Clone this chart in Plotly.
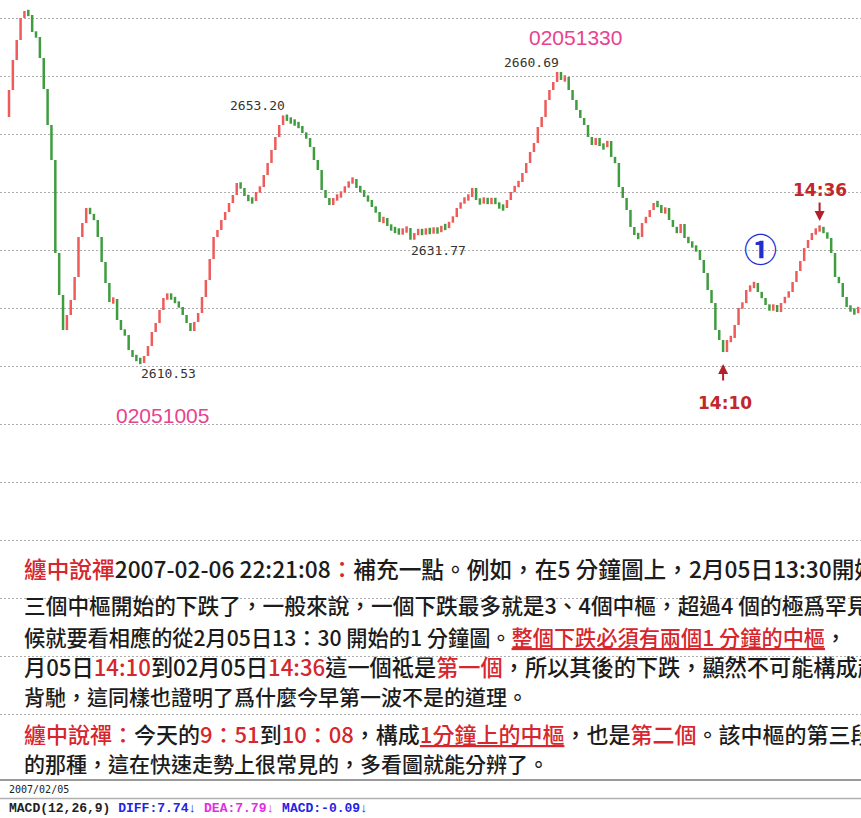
import plotly.graph_objects as go

# ---------------- data (1-minute index bars, 2007/02/05) ----------------
first_open = 2652.93
closes = [
    2657.59, 2662.76, 2666.21, 2670.00, 2671.21, 2670.52, 2667.59, 2666.72, 2663.10, 2657.76,
    2651.55, 2645.52, 2629.48, 2622.24, 2616.21, 2618.79, 2621.38, 2625.34, 2632.24, 2634.65,
    2637.24, 2636.21, 2635.17, 2632.24, 2627.93, 2624.31, 2621.03, 2621.55, 2617.93, 2616.21,
    2615.34, 2612.76, 2611.55, 2611.21, 2610.53, 2611.72, 2613.45, 2615.86, 2617.41, 2619.65,
    2621.72, 2622.24, 2621.72, 2621.03, 2620.17, 2618.79, 2617.41, 2616.03, 2617.59, 2619.14,
    2621.90, 2624.83, 2628.45, 2632.24, 2633.45, 2635.17, 2636.55, 2638.10, 2639.48, 2641.55,
    2640.69, 2639.31, 2638.62, 2638.45, 2640.00, 2640.86, 2642.93, 2645.00, 2647.24, 2649.48,
    2651.55, 2653.20, 2652.41, 2652.24, 2651.72, 2651.38, 2650.17, 2649.31, 2647.76, 2645.52,
    2643.79, 2640.34, 2638.97, 2637.76, 2638.97, 2639.14, 2640.00, 2640.86, 2641.72, 2642.24,
    2640.69, 2640.34, 2639.14, 2638.62, 2637.41, 2636.55, 2634.83, 2635.52, 2634.14, 2633.62,
    2633.28, 2633.10, 2633.28, 2633.79, 2631.77, 2632.93, 2633.28, 2632.93, 2633.45, 2633.10,
    2633.62, 2633.10, 2634.14, 2633.79, 2634.83, 2635.69, 2637.24, 2638.10, 2638.97, 2639.14,
    2640.69, 2638.62, 2638.10, 2638.97, 2637.93, 2638.97, 2637.93, 2637.41, 2637.24, 2638.62,
    2640.00, 2641.03, 2641.72, 2643.28, 2645.00, 2646.90, 2648.45, 2651.21, 2652.93, 2655.86,
    2657.59, 2658.97, 2660.69, 2659.31, 2659.83, 2657.59, 2655.86, 2654.14, 2652.76, 2651.55,
    2649.48, 2648.10, 2649.31, 2647.93, 2647.76, 2648.79, 2646.03, 2645.00, 2640.86, 2638.97,
    2636.90, 2633.97, 2632.59, 2632.24, 2634.65, 2635.69, 2636.90, 2638.10, 2637.76, 2636.38,
    2637.24, 2635.17, 2633.97, 2632.93, 2634.48, 2632.07, 2631.38, 2630.52, 2630.00, 2628.28,
    2626.03, 2623.10, 2620.86, 2616.21, 2614.48, 2612.41, 2614.48, 2614.83, 2617.07, 2620.00,
    2620.86, 2623.10, 2623.62, 2624.31, 2622.76, 2621.72, 2620.52, 2619.65, 2620.52, 2619.31,
    2620.86, 2621.90, 2622.76, 2624.48, 2626.38, 2628.10, 2630.34, 2631.72, 2632.93, 2633.45,
    2633.97, 2632.93, 2632.07, 2629.48, 2625.34, 2624.31, 2621.90, 2620.17, 2619.65, 2619.14,
    2620.17,
]
bar_index = list(range(len(closes)))

high_labels = ["2653.20", "2660.69"]
low_labels = ["2631.77", "2610.53"]
time_labels = ["02051005", "02051330"]
turn_low_idx, turn_high_idx = 185, 210
turn_low_text, turn_high_text = "14:10", "14:36"

date_text = "2007/02/05"
macd_name = "MACD(12,26,9)"
macd_diff, macd_dea, macd_val = "7.74", "7.79", "-0.09"

# ---------------- styling ----------------
W, H = 861, 818
PLOT_H = 745
RED_BAR, GREEN_BAR = "#ef5b5b", "#3f9c3f"
RED_TXT = "#d7262d"
PINK = "#e8428f"
CJK = "Noto Sans CJK TC"

def px(x):
    return x / W

def py(y):
    return 1 - y / PLOT_H

opens = [first_open] + closes[:-1]
bases, heights, colors = [], [], []
MIN_H = 1.1
for o, c in zip(opens, closes):
    lo, hi = min(o, c), max(o, c)
    if hi - lo < MIN_H:
        m = (hi + lo) / 2
        lo, hi = m - MIN_H / 2, m + MIN_H / 2
    bases.append(lo)
    heights.append(hi - lo)
    colors.append(RED_BAR if c >= o else GREEN_BAR)

fig = go.Figure(go.Bar(
    x=bar_index, y=heights, base=bases, width=0.65,
    marker=dict(color=colors, line=dict(width=0)),
    hoverinfo="skip",
))

step = 3.86
x0 = -9 / step
x1 = (W - 9) / step
ppp = 5.8  # pixels per point
y_top = 2670 + 18 / ppp
y_bot = 2670 - (PLOT_H - 18) / ppp

ann = []
# price extreme labels
for t in high_labels:
    v = float(t)
    i = closes.index(v)
    ann.append(dict(x=i, y=v, xref="x", yref="y", text=t, showarrow=False,
                    xanchor="right", yanchor="bottom", xshift=4, yshift=0,
                    font=dict(family="DejaVu Sans Mono", size=13, color="#333")))
for t in low_labels:
    v = float(t)
    i = closes.index(v)
    ann.append(dict(x=i, y=v, xref="x", yref="y", text=t, showarrow=False,
                    xanchor="left", yanchor="top", xshift=-1, yshift=-1,
                    font=dict(family="DejaVu Sans Mono", size=13, color="#333")))
# pink time labels
ann.append(dict(x=px(162), y=py(416), xref="paper", yref="paper", text=time_labels[0],
                showarrow=False, xanchor="center", yanchor="middle",
                font=dict(family="Liberation Sans", size=21, color=PINK)))
ann.append(dict(x=px(575), y=py(38), xref="paper", yref="paper", text=time_labels[1],
                showarrow=False, xanchor="center", yanchor="middle",
                font=dict(family="Liberation Sans", size=21, color=PINK)))
# turning points with arrows
lo_v = closes[turn_low_idx]
hi_v = closes[turn_high_idx]
ann.append(dict(x=turn_low_idx, y=lo_v, xref="x", yref="y", text="", showarrow=True,
                ax=0, ay=30, standoff=12, arrowhead=2, arrowsize=1, arrowwidth=2,
                arrowcolor="#b3202a"))
ann.append(dict(x=turn_low_idx, y=lo_v, xref="x", yref="y", text="<b>" + turn_low_text + "</b>",
                showarrow=False, xanchor="center", yanchor="middle", yshift=-51, xshift=2,
                font=dict(family="DejaVu Sans", size=17, color="#c2272d")))
ann.append(dict(x=turn_high_idx, y=hi_v, xref="x", yref="y", text="", showarrow=True,
                ax=0, ay=-26, standoff=6, arrowhead=2, arrowsize=1, arrowwidth=2,
                arrowcolor="#b3202a"))
ann.append(dict(x=turn_high_idx, y=hi_v, xref="x", yref="y", text="<b>" + turn_high_text + "</b>",
                showarrow=False, xanchor="center", yanchor="middle", yshift=37, xshift=0,
                font=dict(family="DejaVu Sans", size=17, color="#c2272d")))
ann.append(dict(x=px(760), y=py(248), xref="paper", yref="paper", text="①",
                showarrow=False, xanchor="center", yanchor="middle",
                font=dict(family=CJK, size=33, color="#1f2fd0", weight=700)))

# ---------------- commentary text ----------------
def red(s):
    return f'<span style="color:{RED_TXT}">{s}</span>'

# (y centre, font size, text) - first lines of each paragraph are justified wider
lines = [
    (568, 22.7, red("纏中說禪") + "2007-02-06 22:21:08" + red("：") + "補充一點。例如，在5 分鐘圖上，2月05日13:30開始"),
    (604, 21.7, "三個中樞開始的下跌了，一般來說，一個下跌最多就是3、4個中樞，超過4 個的極爲罕見"),
    (636, 21.2, "候就要看相應的從2月05日13：30 開始的1 分鐘圖。" + red("<u>整個下跌必須有兩個1 分鐘的中樞</u>") + "，"),
    (666, 22.2, "月05日" + red("14:10") + "到02月05日" + red("14:36") + "這一個祗是" + red("第一個") + "，所以其後的下跌，顯然不可能構成趨"),
    (696, 21, "背馳，這同樣也證明了爲什麼今早第一波不是的道理。"),
    (733, 22, red("纏中說禪：") + "今天的" + red("9：51") + "到" + red("10：08") + "，構成" + red("<u>1分鐘上的中樞</u>") + "，也是" + red("第二個") + "。該中樞的第三段"),
    (763, 21, "的那種，這在快速走勢上很常見的，多看圖就能分辨了。"),
]
for y, fs, t in lines:
    ann.append(dict(x=px(22), y=py(y), xref="paper", yref="paper", text=t, showarrow=False,
                    xanchor="left", yanchor="middle", align="left",
                    font=dict(family=CJK, size=fs, color="#1c1c1c", weight=500)))

# ---------------- bottom info strip ----------------
ann.append(dict(x=px(7), y=py(789), xref="paper", yref="paper", text=date_text, showarrow=False,
                xanchor="left", yanchor="middle",
                font=dict(family="DejaVu Sans Mono", size=10, color="#222")))
macd_txt = (macd_name + " "
            + f'<span style="color:#2323e6">DIFF:{macd_diff}↓</span> '
            + f'<span style="color:#e22ee2">DEA:{macd_dea}↓</span> '
            + f'<span style="color:#2323e6">MACD:{macd_val}↓</span>')
ann.append(dict(x=px(7), y=py(808), xref="paper", yref="paper", text=macd_txt, showarrow=False,
                xanchor="left", yanchor="middle",
                font=dict(family="Liberation Mono", size=13, color="#222", weight=700)))

shapes = [
    dict(type="line", xref="paper", yref="paper", x0=0, x1=1, y0=py(780), y1=py(780),
         line=dict(color="#9a9a9a", width=2)),
    dict(type="line", xref="paper", yref="paper", x0=0, x1=1, y0=py(798.5), y1=py(798.5),
         line=dict(color="#b0b0b0", width=1.5)),
]

fig.update_layout(
    width=W, height=H,
    margin=dict(l=0, r=0, t=0, b=H - PLOT_H, pad=0),
    paper_bgcolor="white", plot_bgcolor="white",
    showlegend=False,
    xaxis=dict(range=[x0, x1], visible=False, fixedrange=True),
    yaxis=dict(range=[y_bot, y_top], tick0=2670, dtick=10, showgrid=True,
               gridcolor="#adadad", griddash="1.5px,2.5px", gridwidth=1,
               showticklabels=False, zeroline=False, ticks="", fixedrange=True),
    annotations=ann,
    shapes=shapes,
)

fig.write_html("out.html",
               config={"displayModeBar": False},
               post_script="document.body.style.margin='0px';document.body.style.overflow='hidden';")
